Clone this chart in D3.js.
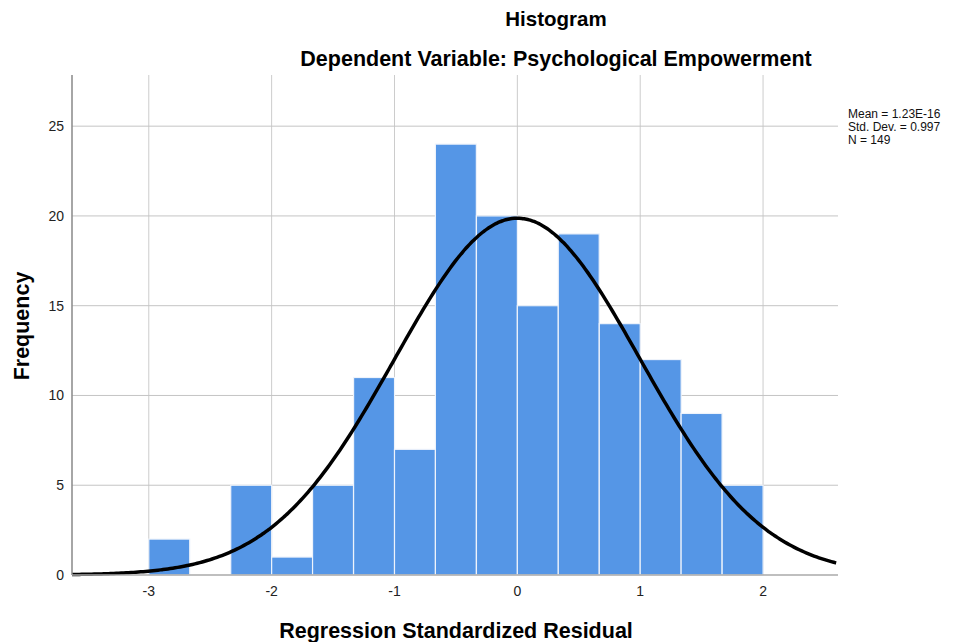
<!DOCTYPE html>
<html lang="en">
<head>
<meta charset="UTF-8">
<title>Histogram</title>
<script src="https://d3js.org/d3.v7.min.js"></script>
<style>
  * { margin: 0; padding: 0; box-sizing: border-box; }
  body { background: #fff; font-family: Arial, "Liberation Sans", sans-serif; }
</style>
</head>
<body>
<div id="chart"></div>
<script>
// bin edges (start of each bin) and counts
const binStarts = [-3, -2.667, -2.333, -2, -1.667, -1.333, -1, -0.667, -0.333, 0, 0.333, 0.667, 1, 1.333, 1.667];
const counts    = [ 2,  0,      5,      1,   5,     11,     7,   24,     20,     15, 19,    14,    12, 9,     5];
const binWidth = 1 / 3;
const xTicks = [-3, -2, -1, 0, 1, 2];
const yTicks = [0, 5, 10, 15, 20, 25];
const statLines = ["Mean = 1.23E-16", "Std. Dev. = 0.997", "N = 149"];
const mean = 1.23e-16, sd = 0.997, n = 149;

const W = 959, H = 642;
const margin = { top: 75, right: 121, bottom: 67, left: 72 };
const width = W - margin.left - margin.right;
const height = H - margin.top - margin.bottom;

const svg = d3.select("#chart").append("svg")
  .attr("width", W).attr("height", H);

const g = svg.append("g").attr("transform", `translate(${margin.left},${margin.top})`);

const x = d3.scaleLinear().domain([-3.625, 2.61]).range([0, width]);
const y = d3.scaleLinear().domain([0, 27.85]).range([height, 0]);

// grid
g.append("g").selectAll("line").data(xTicks).join("line")
  .attr("x1", d => x(d)).attr("x2", d => x(d))
  .attr("y1", 0).attr("y2", height)
  .attr("stroke", "#cccccc").attr("stroke-width", 1);
g.append("g").selectAll("line").data(yTicks.filter(d => d > 0)).join("line")
  .attr("x1", 0).attr("x2", width)
  .attr("y1", d => y(d)).attr("y2", d => y(d))
  .attr("stroke", "#c4c4c4").attr("stroke-width", 1);

// bars
g.append("g").selectAll("rect").data(binStarts.map((s, i) => ({ s, c: counts[i] })).filter(d => d.c > 0))
  .join("rect")
  .attr("x", d => x(d.s))
  .attr("width", d => x(d.s + binWidth) - x(d.s))
  .attr("y", d => y(d.c))
  .attr("height", d => y(0) - y(d.c))
  .attr("fill", "#5596e6")
  .attr("stroke", "#eef3fb")
  .attr("stroke-width", 1.2);

// normal curve from the stated mean / sd / N
const curvePts = d3.range(x.domain()[0], x.domain()[1] + 0.001, 0.02).map(v => [
  v, n * binWidth * Math.exp(-0.5 * ((v - mean) / sd) ** 2) / (sd * Math.sqrt(2 * Math.PI))
]);
g.append("path")
  .datum(curvePts)
  .attr("fill", "none")
  .attr("stroke", "#000")
  .attr("stroke-width", 3.5)
  .attr("d", d3.line().x(d => x(d[0])).y(d => y(d[1])).curve(d3.curveBasis));

// axes
g.append("line").attr("x1", 0).attr("x2", 0).attr("y1", 0).attr("y2", height)
  .attr("stroke", "#888").attr("stroke-width", 1.5);
g.append("line").attr("x1", 0).attr("x2", width).attr("y1", height).attr("y2", height)
  .attr("stroke", "#aaa").attr("stroke-width", 1.5);

g.append("g").selectAll("text").data(yTicks).join("text")
  .attr("x", -8).attr("y", d => y(d)).attr("dy", "0.35em")
  .attr("text-anchor", "end")
  .style("font-size", "14px").style("fill", "#222")
  .text(d => d);

g.append("g").selectAll("text").data(xTicks).join("text")
  .attr("x", d => x(d)).attr("y", height + 21)
  .attr("text-anchor", "middle")
  .style("font-size", "14px").style("fill", "#222")
  .text(d => d);

// titles
svg.append("text").attr("x", 556).attr("y", 26).attr("text-anchor", "middle")
  .style("font-size", "20.5px").style("font-weight", "bold").text("Histogram");
svg.append("text").attr("x", 556).attr("y", 66).attr("text-anchor", "middle")
  .style("font-size", "21.5px").style("font-weight", "bold").text("Dependent Variable: Psychological Empowerment");
svg.append("text").attr("x", 456).attr("y", 638).attr("text-anchor", "middle")
  .style("font-size", "21.5px").style("font-weight", "bold").text("Regression Standardized Residual");
svg.append("text").attr("transform", "translate(29,326) rotate(-90)").attr("text-anchor", "middle")
  .style("font-size", "21.5px").style("font-weight", "bold").text("Frequency");

// stats box
svg.append("g").selectAll("text").data(statLines).join("text")
  .attr("x", 848).attr("y", (d, i) => 118 + i * 13)
  .style("font-size", "12px").style("fill", "#111")
  .text(d => d);
</script>
</body>
</html>
